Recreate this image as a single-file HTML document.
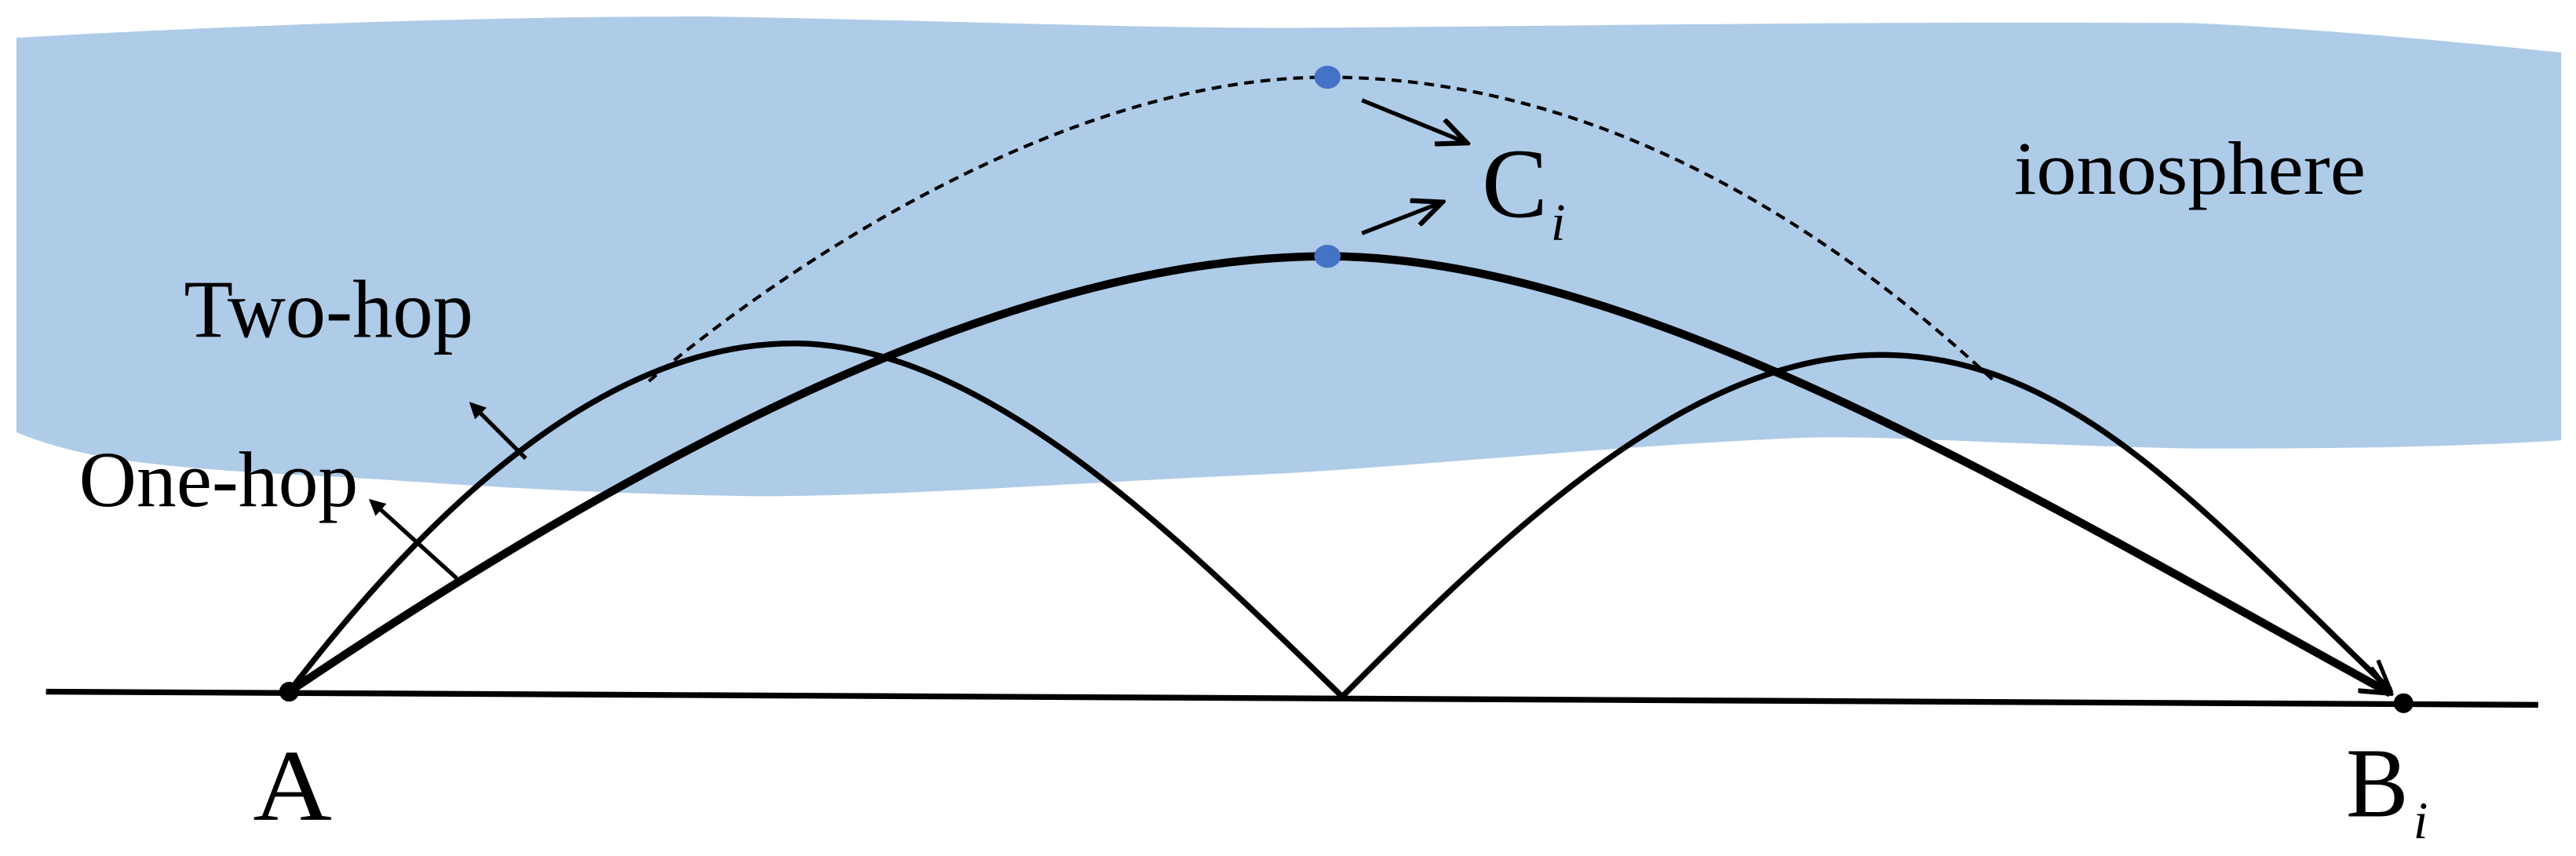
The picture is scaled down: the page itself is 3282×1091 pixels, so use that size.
<!DOCTYPE html>
<html><head><meta charset="utf-8"><style>html,body{margin:0;padding:0;background:#fff}svg{display:block}</style></head>
<body>
<svg width="3282" height="1091" viewBox="0 0 1568 521" preserveAspectRatio="none" xmlns="http://www.w3.org/2000/svg">
<defs>
<marker id="ah" markerWidth="10" markerHeight="10" refX="8" refY="5" orient="auto" markerUnits="userSpaceOnUse">
<path d="M0,0 L10,5 L0,10 Z" fill="#000"/></marker>
<marker id="ab" markerWidth="22" markerHeight="18" refX="20" refY="9" orient="auto" markerUnits="userSpaceOnUse">
<path d="M2,1 L20,9 L2,17" fill="none" stroke="#000" stroke-width="3"/></marker>
<marker id="ao" markerWidth="22" markerHeight="18" refX="20" refY="9" orient="auto" markerUnits="userSpaceOnUse">
<path d="M2,1 L20,9 L2,17" fill="none" stroke="#000" stroke-width="2.5"/></marker>
</defs>
<path d="M10,23 C150,15 300,10 430,10 C560,12 680,17 784,17 C950,16 1100,13 1334,14 C1420,18 1500,26 1559,32 L1559,268 C1480,273 1400,273 1334,273 C1200,270 1140,264 1084,267 C980,272 880,282 784,288 C650,294 550,302 460,302 C330,300 260,293 200,290 C100,285 50,280 10,263 Z" fill="#aecbe8"/>
<path d="M28,421 L1545,429" stroke="#000" stroke-width="3.5"/>
<path d="M395,232 C480,160 650,47 808,47 C960,47 1100,125 1215,233" fill="none" stroke="#000" stroke-width="2" stroke-dasharray="6,4"/>
<path d="M176,421 C400,270 620,156 808,156 C1000,156 1250,310 1455,422" fill="none" stroke="#000" stroke-width="5" marker-end="url(#ab)"/>
<path d="M176,421 C265,305 370,209 483,209 C600,209 720,330 817,424 C920,320 1030,216 1145,216 C1260,216 1340,310 1455,420" fill="none" stroke="#000" stroke-width="3.5" marker-end="url(#ao)"/>
<circle cx="176" cy="421" r="6" fill="#000"/>
<circle cx="1463" cy="428" r="6" fill="#000"/>
<ellipse cx="808" cy="47" rx="8" ry="7" fill="#4472c4"/>
<ellipse cx="808" cy="156" rx="8" ry="7" fill="#4472c4"/>
<path d="M320,279 L287,246" stroke="#000" stroke-width="2.5" marker-end="url(#ah)"/>
<path d="M278,352 L226,305" stroke="#000" stroke-width="2.5" marker-end="url(#ah)"/>
<path d="M829,61 L893,87" stroke="#000" stroke-width="2.5" marker-end="url(#ab)"/>
<path d="M829,142 L878,123" stroke="#000" stroke-width="2.5" marker-end="url(#ab)"/>
<g font-family="'Liberation Serif', serif" fill="#000">
<text x="112" y="205" font-size="50" textLength="176" lengthAdjust="spacingAndGlyphs">Two-hop</text>
<text x="48" y="308" font-size="48" textLength="170" lengthAdjust="spacingAndGlyphs">One-hop</text>
<text x="1226" y="118" font-size="46" textLength="214" lengthAdjust="spacingAndGlyphs">ionosphere</text>
<text x="154" y="499" font-size="62" textLength="48" lengthAdjust="spacingAndGlyphs">A</text>
<text x="902" y="132" font-size="60" textLength="40" lengthAdjust="spacingAndGlyphs">C</text>
<text x="944" y="146" font-size="32" font-style="italic">i</text>
<text x="1428" y="497" font-size="60" textLength="38" lengthAdjust="spacingAndGlyphs">B</text>
<text x="1469" y="510" font-size="32" font-style="italic">i</text>
</g>
</svg>
</body></html>
